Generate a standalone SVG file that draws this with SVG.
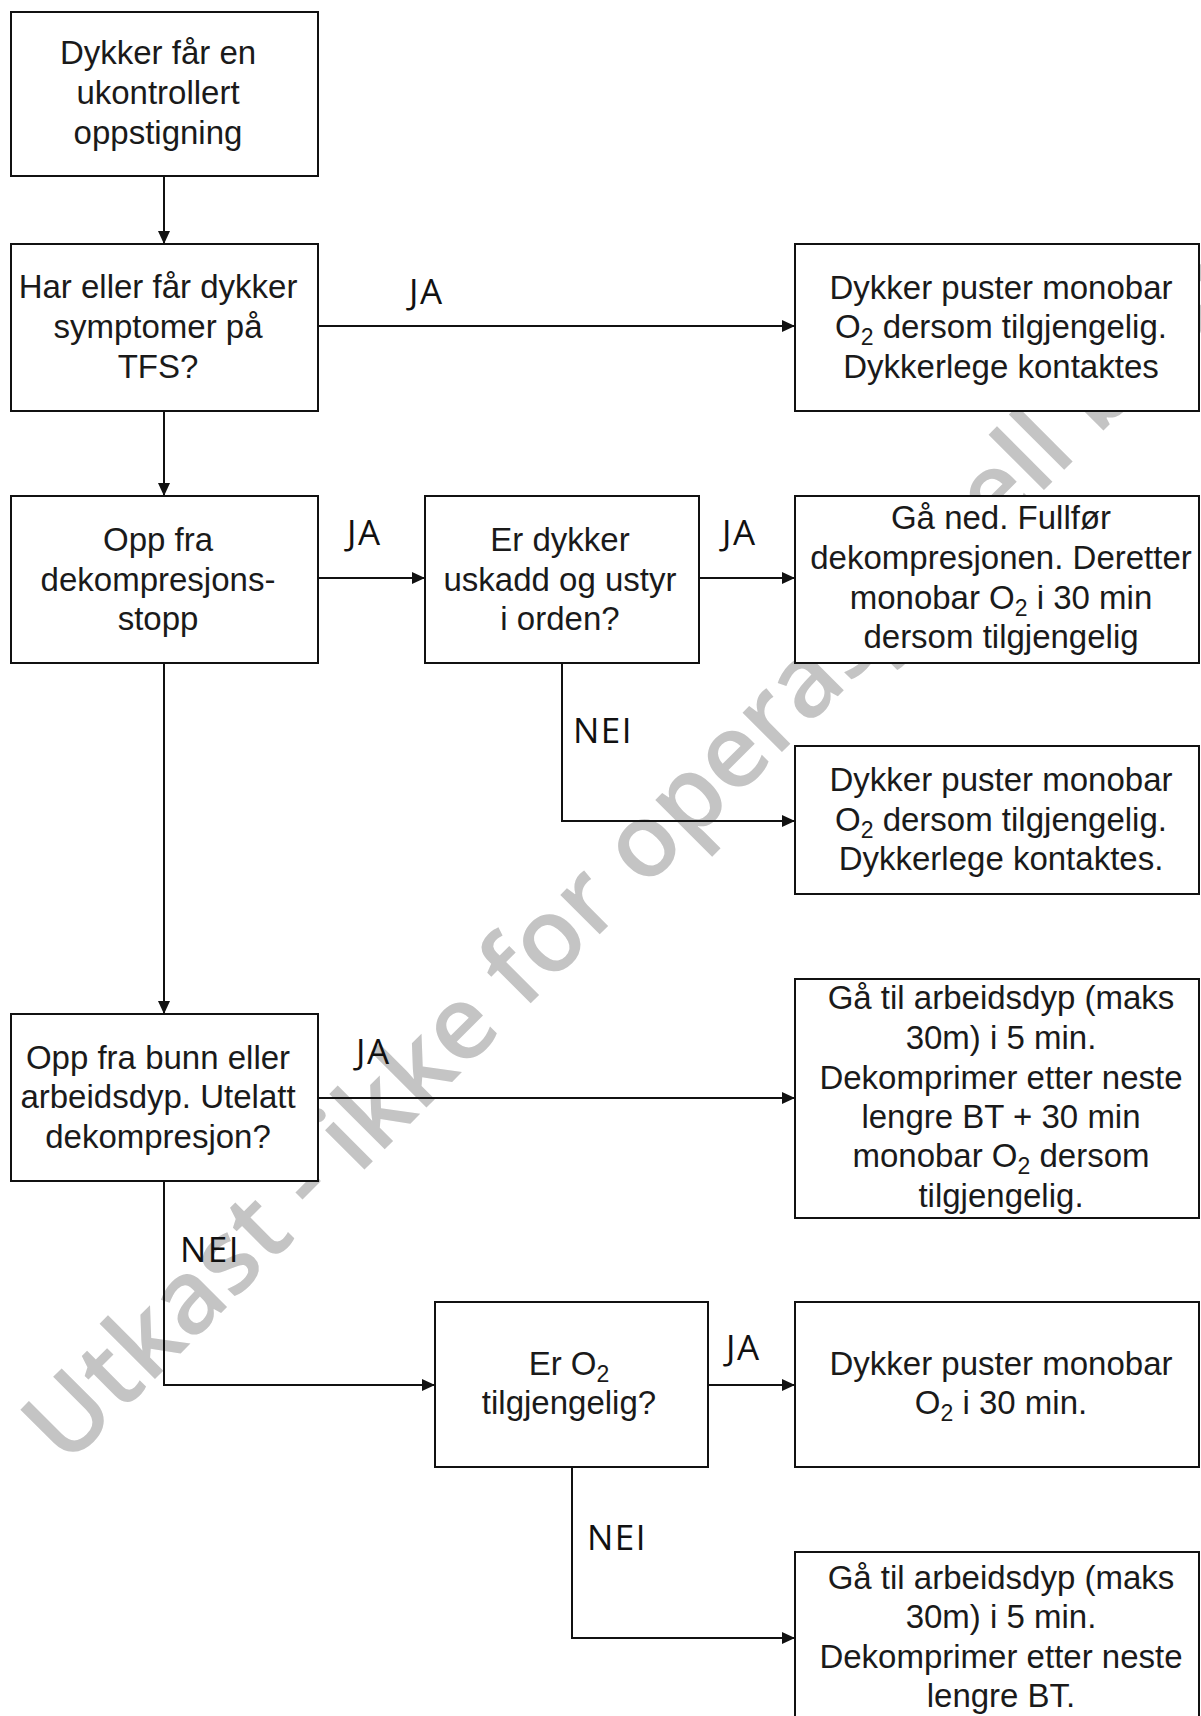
<svg xmlns="http://www.w3.org/2000/svg" width="1201" height="1716" viewBox="0 0 1201 1716">
<defs>
<style>
.box{fill:#fff;stroke:#111;stroke-width:2}
.t{font-family:"Liberation Sans",Arial,sans-serif;font-size:33px;fill:#1a1a1a;text-anchor:middle}
.lbl{font-family:"Open Sans","Noto Sans",sans-serif;font-size:35px;letter-spacing:1.5px;fill:#111}
.c{fill:none;stroke:#111;stroke-width:2}
.wm{font-family:"Open Sans","DejaVu Sans",sans-serif;font-size:103px;font-weight:600;fill:#c4c4c4}
</style>
<marker id="ah" markerUnits="userSpaceOnUse" markerWidth="14" markerHeight="12" refX="13" refY="6" orient="auto">
<path d="M0,0 L13,6 L0,12 z" fill="#111"/>
</marker>
</defs>
<rect width="1201" height="1716" fill="#fff"/>
<text class="wm" x="66" y="1468" transform="rotate(-45 66 1468)">Utkast - ikke for operasjonell bruk</text>
<g id="connectors">
<line class="c" x1="164" y1="176" x2="164" y2="244" marker-end="url(#ah)"/>
<line class="c" x1="318" y1="326" x2="795" y2="326" marker-end="url(#ah)"/>
<line class="c" x1="164" y1="411" x2="164" y2="496" marker-end="url(#ah)"/>
<line class="c" x1="318" y1="578" x2="425" y2="578" marker-end="url(#ah)"/>
<line class="c" x1="699" y1="578" x2="795" y2="578" marker-end="url(#ah)"/>
<polyline class="c" points="562,663 562,821 795,821" marker-end="url(#ah)"/>
<line class="c" x1="164" y1="663" x2="164" y2="1014" marker-end="url(#ah)"/>
<line class="c" x1="318" y1="1098" x2="795" y2="1098" marker-end="url(#ah)"/>
<polyline class="c" points="164,1181 164,1385 435,1385" marker-end="url(#ah)"/>
<line class="c" x1="708" y1="1385" x2="795" y2="1385" marker-end="url(#ah)"/>
<polyline class="c" points="572,1467 572,1638 795,1638" marker-end="url(#ah)"/>
<text class="lbl" x="409" y="304">JA</text>
<text class="lbl" x="347" y="545">JA</text>
<text class="lbl" x="722" y="545">JA</text>
<text class="lbl" x="573" y="743">NEI</text>
<text class="lbl" x="356" y="1064">JA</text>
<text class="lbl" x="180" y="1262">NEI</text>
<text class="lbl" x="726" y="1360">JA</text>
<text class="lbl" x="587" y="1550">NEI</text>
</g>
<g id="n1">
<rect class="box" x="11" y="12" width="307" height="164"/>
<text class="t" x="158" y="64">Dykker får en</text>
<text class="t" x="158" y="104">ukontrollert</text>
<text class="t" x="158" y="143.5">oppstigning</text>
</g>
<g id="n2">
<rect class="box" x="11" y="244" width="307" height="167"/>
<text class="t" x="158" y="298">Har eller får dykker</text>
<text class="t" x="158" y="338">symptomer på</text>
<text class="t" x="158" y="378">TFS?</text>
</g>
<g id="r1">
<rect class="box" x="795" y="244" width="404" height="167"/>
<text class="t" x="1001" y="299">Dykker puster monobar</text>
<text class="t" x="1001" y="338">O<tspan font-size="23" dy="7">2</tspan><tspan dy="-7"> dersom tilgjengelig.</tspan></text>
<text class="t" x="1001" y="378">Dykkerlege kontaktes</text>
</g>
<g id="n3">
<rect class="box" x="11" y="496" width="307" height="167"/>
<text class="t" x="158" y="551">Opp fra</text>
<text class="t" x="158" y="590.5">dekompresjons-</text>
<text class="t" x="158" y="630">stopp</text>
</g>
<g id="n4">
<rect class="box" x="425" y="496" width="274" height="167"/>
<text class="t" x="560" y="551">Er dykker</text>
<text class="t" x="560" y="590.5">uskadd og ustyr</text>
<text class="t" x="560" y="630">i orden?</text>
</g>
<g id="r2">
<rect class="box" x="795" y="496" width="404" height="167"/>
<text class="t" x="1001" y="529">Gå ned. Fullfør</text>
<text class="t" x="1001" y="569">dekompresjonen. Deretter</text>
<text class="t" x="1001" y="609">monobar O<tspan font-size="23" dy="7">2</tspan><tspan dy="-7"> i 30 min</tspan></text>
<text class="t" x="1001" y="648">dersom tilgjengelig</text>
</g>
<g id="r3">
<rect class="box" x="795" y="746" width="404" height="148"/>
<text class="t" x="1001" y="791">Dykker puster monobar</text>
<text class="t" x="1001" y="830.5">O<tspan font-size="23" dy="7">2</tspan><tspan dy="-7"> dersom tilgjengelig.</tspan></text>
<text class="t" x="1001" y="870">Dykkerlege kontaktes.</text>
</g>
<g id="n5">
<rect class="box" x="11" y="1014" width="307" height="167"/>
<text class="t" x="158" y="1068.5">Opp fra bunn eller</text>
<text class="t" x="158" y="1108">arbeidsdyp. Utelatt</text>
<text class="t" x="158" y="1147.5">dekompresjon?</text>
</g>
<g id="r4">
<rect class="box" x="795" y="979" width="404" height="239"/>
<text class="t" x="1001" y="1009">Gå til arbeidsdyp (maks</text>
<text class="t" x="1001" y="1049">30m) i 5 min.</text>
<text class="t" x="1001" y="1089">Dekomprimer etter neste</text>
<text class="t" x="1001" y="1128">lengre BT + 30 min</text>
<text class="t" x="1001" y="1167">monobar O<tspan font-size="23" dy="7">2</tspan><tspan dy="-7"> dersom</tspan></text>
<text class="t" x="1001" y="1207">tilgjengelig.</text>
</g>
<g id="n6">
<rect class="box" x="435" y="1302" width="273" height="165"/>
<text class="t" x="569" y="1375">Er O<tspan font-size="23" dy="7">2</tspan></text>
<text class="t" x="569" y="1414">tilgjengelig?</text>
</g>
<g id="r5">
<rect class="box" x="795" y="1302" width="404" height="165"/>
<text class="t" x="1001" y="1375">Dykker puster monobar</text>
<text class="t" x="1001" y="1414">O<tspan font-size="23" dy="7">2</tspan><tspan dy="-7"> i 30 min.</tspan></text>
</g>
<g id="r6">
<rect class="box" x="795" y="1552" width="404" height="180"/>
<text class="t" x="1001" y="1589">Gå til arbeidsdyp (maks</text>
<text class="t" x="1001" y="1628">30m) i 5 min.</text>
<text class="t" x="1001" y="1668">Dekomprimer etter neste</text>
<text class="t" x="1001" y="1707">lengre BT.</text>
</g>
</svg>
